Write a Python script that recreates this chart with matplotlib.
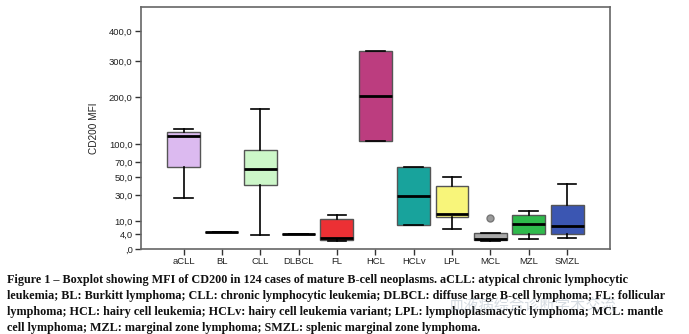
import matplotlib
matplotlib.use("Agg")
import matplotlib.pyplot as plt
import numpy as np

# CD200 MFI per entity (box summary values)
groups = ["aCLL", "BL", "CLL", "DLBCL", "FL", "HCL", "HCLv", "LPL", "MCL", "MZL", "SMZL"]
whislo = [27, 4.8, 3.7, 4.0, 2.1, 106, 8.0, 6.3, 1.9, 2.6, 2.9]
q1 = [63, 4.8, 40.6, 4.0, 2.2, 106, 8.0, 12.3, 2.2, 4.25, 4.25]
med = [114, 4.8, 60.6, 4.0, 2.9, 202, 29.4, 14.3, 2.6, 8.4, 7.5]
q3 = [122, 4.8, 89, 4.0, 11.1, 333, 64, 39.5, 4.4, 13.6, 20.9]
whishi = [129, 4.8, 171, 4.0, 13.6, 333, 64, 49.7, 4.4, 16.8, 42.1]
fliers = [[], [], [], [], [], [], [], [], [11.7], [], []]
colors = ["#dcbaf0", "#ffffff", "#cdf7c9", "#ffffff", "#ec3034", "#bc3d7f",
          "#18a39c", "#f8f57a", "#a9a9a9", "#2fba4c", "#3b56b2"]

yticks = [0.5, 4, 10, 30, 50, 70, 100, 200, 300, 400]
ytick_labels = [",0", "4,0", "10,0", "30,0", "50,0", "70,0", "100,0", "200,0", "300,0", "400,0"]

caption = [
    "Figure 1 \u2013 Boxplot showing MFI of CD200 in 124 cases of mature B-cell neoplasms. aCLL: atypical chronic lymphocytic",
    "leukemia; BL: Burkitt lymphoma; CLL: chronic lymphocytic leukemia; DLBCL: diffuse large B-cell lymphoma; FL: follicular",
    "lymphoma; HCL: hairy cell leukemia; HCLv: hairy cell leukemia variant; LPL: lymphoplasmacytic lymphoma; MCL: mantle",
    "cell lymphoma; MZL: marginal zone lymphoma; SMZL: splenic marginal zone lymphoma.",
]

W, H = 689, 334
fig = plt.figure(figsize=(W / 100, H / 100), dpi=100)
ax = fig.add_axes([141 / W, 1 - 249 / H, (610 - 141) / W, (249 - 7) / H])

stats = []
for i, g in enumerate(groups):
    stats.append(dict(label=g, whislo=whislo[i], q1=q1[i], med=med[i],
                      q3=q3[i], whishi=whishi[i], fliers=fliers[i]))

pos = np.arange(1, len(groups) + 1)
bp = ax.bxp(stats, positions=pos, widths=0.86, patch_artist=True,
            showfliers=True,
            boxprops=dict(edgecolor="#555555", linewidth=1.0),
            medianprops=dict(color="black", linewidth=2.0),
            whiskerprops=dict(color="black", linewidth=1.2),
            capprops=dict(color="black", linewidth=1.2),
            capwidths=0.48,
            flierprops=dict(marker="o", markersize=5, markerfacecolor="#9a9a9a",
                            markeredgecolor="#777777"))
for patch, c in zip(bp["boxes"], colors):
    patch.set_facecolor(c)
# single-value groups are drawn as a plain line
for i, g in enumerate(groups):
    if q1[i] == q3[i]:
        bp["boxes"][i].set_edgecolor("black")

ax.set_yscale("function", functions=(lambda v: np.sqrt(np.clip(v, 0, None)),
                                     lambda v: np.square(v)))
ax.set_ylim(0.5, 490)
ax.set_xlim(-0.11, 12.12)
ax.set_yticks(yticks)
ax.set_yticklabels(ytick_labels)
ax.yaxis.set_minor_locator(matplotlib.ticker.NullLocator())
ax.set_xticks(pos)
ax.set_xticklabels(groups)
ax.tick_params(axis="both", direction="out", length=4, width=1, color="#333333",
               labelsize=6.8, labelcolor="#222222", pad=2)
for lab in ax.get_xticklabels() + ax.get_yticklabels():
    lab.set_family("Liberation Sans")
ax.set_ylabel("CD200 MFI", fontsize=7.2, color="#222222", labelpad=7,
              family="Liberation Sans")
for s in ax.spines.values():
    s.set_color("#666666")
    s.set_linewidth(1.2)

# caption below the chart
for k, line in enumerate(caption):
    fig.text(7 / W, 1 - (280.5 + 15.7 * k) / H, line, fontsize=8.7, fontweight="bold",
             family="Liberation Serif", color="#111111", va="center", ha="left")

fig.text(532 / W, 1 - 305 / H, "血液病综合诊断学术交流", fontsize=11,
         family=["Noto Sans CJK SC", "DejaVu Sans"], color="#8899aa", alpha=0.35,
         ha="center", va="center")

fig.savefig("out.png", dpi=100)
